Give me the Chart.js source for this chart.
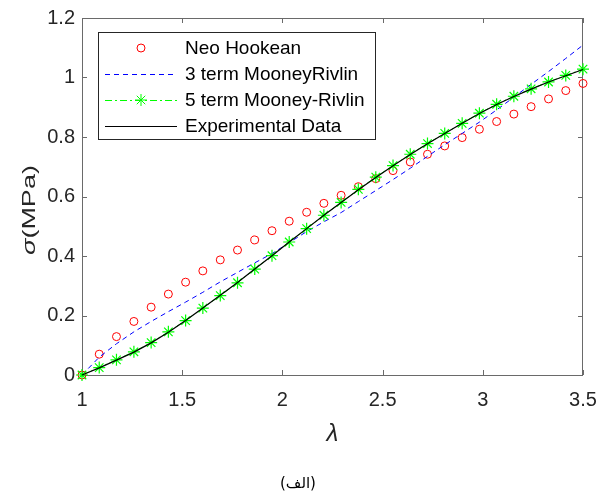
<!DOCTYPE html>
<html>
<head>
<meta charset="utf-8">
<script src="https://cdn.jsdelivr.net/npm/chart.js@4.4.1/dist/chart.umd.min.js"></script>
<style>
body { margin: 0; background: #fff; }
#wrap { position: relative; width: 601px; height: 497px; }
#caption { position: absolute; left: 0; width: 596px; top: 474px; text-align: center; font: 15px "DejaVu Sans"; color: #000; }
</style>
</head>
<body>
<div id="wrap">
<canvas id="stressChart"></canvas>
<div id="caption" dir="rtl">(الف)</div>
</div>
<script>
// stretch ratio (lambda) values
const stretch = [1.000, 1.086, 1.172, 1.259, 1.345, 1.431, 1.517, 1.603, 1.690, 1.776,
    1.862, 1.948, 2.034, 2.121, 2.207, 2.293, 2.379, 2.466, 2.552, 2.638,
    2.724, 2.810, 2.897, 2.983, 3.069, 3.155, 3.241, 3.328, 3.414, 3.500];

// stress in MPa
const neoHookean = [0, 0.070, 0.129, 0.180, 0.228, 0.272, 0.312, 0.350, 0.387, 0.420,
    0.454, 0.485, 0.517, 0.547, 0.577, 0.604, 0.633, 0.660, 0.687, 0.716,
    0.742, 0.770, 0.798, 0.826, 0.852, 0.877, 0.902, 0.928, 0.956, 0.980];
const mooney3 = [0, 0.060, 0.105, 0.145, 0.180, 0.213, 0.245, 0.278, 0.313, 0.345,
    0.377, 0.408, 0.445, 0.482, 0.515, 0.546, 0.583, 0.620, 0.657, 0.695,
    0.735, 0.774, 0.812, 0.850, 0.891, 0.934, 0.977, 1.020, 1.064, 1.109];
const mooney5 = [0, 0.025, 0.051, 0.078, 0.109, 0.145, 0.183, 0.225, 0.267, 0.310,
    0.356, 0.401, 0.447, 0.492, 0.537, 0.580, 0.624, 0.665, 0.704, 0.742,
    0.778, 0.812, 0.846, 0.880, 0.910, 0.937, 0.962, 0.985, 1.007, 1.028];
const experimental = [0, 0.024, 0.050, 0.077, 0.108, 0.144, 0.183, 0.225, 0.268, 0.311,
    0.356, 0.401, 0.447, 0.492, 0.537, 0.580, 0.623, 0.664, 0.703, 0.741,
    0.777, 0.812, 0.846, 0.879, 0.909, 0.936, 0.961, 0.985, 1.006, 1.027];

const xTicks = [1, 1.5, 2, 2.5, 3, 3.5];
const xTickLabels = ['1', '1.5', '2', '2.5', '3', '3.5'];
const yTicks = [0, 0.2, 0.4, 0.6, 0.8, 1, 1.2];
const yTickLabels = ['0', '0.2', '0.4', '0.6', '0.8', '1', '1.2'];

const FONT = '"Liberation Sans", Arial, sans-serif';

function toPoints(ys) {
    return stretch.map((x, i) => ({ x: x, y: ys[i] }));
}

// matlab style box, inward ticks, legend and axis labels
const matlabAxes = {
    id: 'matlabAxes',
    beforeDatasetsDraw(chart) {
        const { ctx, chartArea: a, scales } = chart;
        const t = 5;
        ctx.save();
        ctx.strokeStyle = '#6a6a6a';
        ctx.lineWidth = 1;
        ctx.strokeRect(a.left + 0.5, a.top + 0.5, a.right - a.left - 1, a.bottom - a.top);
        ctx.beginPath();
        scales.x.ticks.forEach(tk => {
            const px = Math.round(scales.x.getPixelForValue(tk.value)) + 0.5;
            ctx.moveTo(px, a.bottom); ctx.lineTo(px, a.bottom - t);
            ctx.moveTo(px, a.top); ctx.lineTo(px, a.top + t);
        });
        scales.y.ticks.forEach(tk => {
            const py = Math.round(scales.y.getPixelForValue(tk.value)) + 0.5;
            ctx.moveTo(a.left, py); ctx.lineTo(a.left + t, py);
            ctx.moveTo(a.right, py); ctx.lineTo(a.right - t, py);
        });
        ctx.stroke();
        ctx.restore();
    },
    afterDraw(chart) {
        const { ctx, chartArea: a } = chart;
        ctx.save();

        // y label, stretched along its length like the reference
        ctx.translate(30, 210);
        ctx.rotate(-Math.PI / 2);
        ctx.scale(1.5, 1);
        ctx.fillStyle = '#262626';
        ctx.textBaseline = 'middle';
        ctx.font = 'italic 18px ' + FONT;
        const sw = ctx.measureText('σ').width;
        ctx.font = '18px ' + FONT;
        const rw = ctx.measureText('(MPa)').width;
        const x0 = -(sw + rw) / 2;
        ctx.font = 'italic 18px ' + FONT;
        ctx.fillText('σ', x0, 0);
        ctx.font = '18px ' + FONT;
        ctx.fillText('(MPa)', x0 + sw, 0);
        ctx.setTransform(1, 0, 0, 1, 0, 0);

        // x label
        ctx.font = 'italic 24px ' + FONT;
        ctx.textAlign = 'center';
        ctx.fillText('λ', (a.left + a.right) / 2, 434);

        // legend
        const bx = 98, by = 32, bw = 277, bh = 107;
        ctx.fillStyle = '#fff';
        ctx.fillRect(bx, by, bw, bh);
        ctx.strokeStyle = '#262626';
        ctx.lineWidth = 1;
        ctx.strokeRect(bx + 0.5, by + 0.5, bw, bh);
        ctx.textAlign = 'left';
        ctx.font = '19px ' + FONT;
        chart.data.datasets.forEach((ds, i) => {
            const y = 48 + i * 26;
            ctx.save();
            if (ds.showLine !== false) {
                ctx.strokeStyle = ds.borderColor;
                ctx.lineWidth = ds.borderWidth;
                ctx.setLineDash(ds.borderDash || []);
                ctx.beginPath();
                ctx.moveTo(105, y + 0.5);
                ctx.lineTo(177, y + 0.5);
                ctx.stroke();
            }
            if (ds.pointRadius > 0) {
                ctx.setLineDash([]);
                ctx.strokeStyle = ds.pointBorderColor;
                ctx.fillStyle = 'rgba(0,0,0,0)';
                Chart.helpers.drawPoint(ctx, {
                    pointStyle: ds.pointStyle, radius: ds.pointRadius,
                    borderWidth: ds.pointBorderWidth, rotation: 0
                }, 141, y);
            }
            ctx.restore();
            ctx.fillStyle = '#000';
            ctx.textBaseline = 'middle';
            ctx.fillText(ds.label, 185, y + 1);
        });
        ctx.restore();
    }
};

new Chart(document.getElementById('stressChart'), {
    type: 'line',
    data: {
        datasets: [{
            label: 'Neo Hookean',
            data: toPoints(neoHookean),
            showLine: false,
            pointStyle: 'circle',
            pointRadius: 4,
            pointBorderWidth: 1,
            pointBorderColor: '#ff0000',
            pointBackgroundColor: 'rgba(0,0,0,0)',
            borderColor: '#ff0000',
            order: 4,
            clip: false
        }, {
            label: '3 term MooneyRivlin',
            data: toPoints(mooney3),
            borderColor: '#0000ff',
            borderWidth: 1,
            borderDash: [5, 4],
            pointRadius: 0,
            order: 3,
            clip: false
        }, {
            label: '5 term Mooney-Rivlin',
            data: toPoints(mooney5),
            borderColor: '#00ff00',
            borderWidth: 1,
            borderDash: [7, 3, 2, 3],
            pointStyle: 'star',
            pointRadius: 6,
            pointBorderWidth: 1.2,
            pointBorderColor: '#00ff00',
            pointBackgroundColor: 'rgba(0,0,0,0)',
            order: 2,
            clip: false
        }, {
            label: 'Experimental Data',
            data: toPoints(experimental),
            borderColor: '#000000',
            borderWidth: 1.2,
            pointRadius: 0,
            order: 1,
            clip: false
        }]
    },
    options: {
        responsive: true,
        maintainAspectRatio: false,
        animation: false,
        layout: { padding: { left: 0, top: 18, right: 18, bottom: 0 } },
        plugins: { legend: { display: false }, tooltip: { enabled: false } },
        scales: {
            x: {
                type: 'linear',
                min: 1,
                max: 3.5,
                afterBuildTicks: s => { s.ticks = xTicks.map(v => ({ value: v })); },
                afterFit: s => { s.height = 122; s.paddingRight = 0; s.paddingLeft = 0; },
                grid: { display: false, drawTicks: false },
                border: { display: false },
                ticks: {
                    color: '#262626', font: { family: FONT, size: 20 }, padding: 13, maxRotation: 0,
                    callback: (v, i) => xTickLabels[i]
                }
            },
            y: {
                min: 0,
                max: 1.2,
                afterBuildTicks: s => { s.ticks = yTicks.map(v => ({ value: v })); },
                afterFit: s => { s.width = 82; s.paddingTop = 0; s.paddingBottom = 0; },
                grid: { display: false, drawTicks: false },
                border: { display: false },
                ticks: {
                    color: '#262626', font: { family: FONT, size: 20 }, padding: 7,
                    callback: (v, i) => yTickLabels[i]
                }
            }
        }
    },
    plugins: [matlabAxes]
});
</script>
</body>
</html>
